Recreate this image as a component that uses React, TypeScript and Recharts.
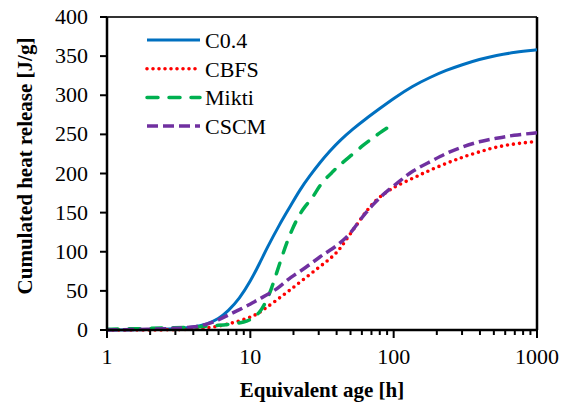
import React from 'react';
import { LineChart, Line, XAxis, YAxis, Legend, ReferenceLine } from 'recharts';

// equivalent age [h] and cumulated heat [J/g]
const c04Age = [1, 2, 3, 4, 5, 6, 7, 8.4, 10, 11.6, 13, 16.1, 19, 22.1, 26, 30.6, 36, 42, 52, 64, 80, 100, 136, 180, 233, 300, 397, 520, 700, 1000];
const c04Heat = [0, 0.5, 1.5, 3.5, 7.5, 14, 24, 40, 62, 85, 104, 136, 158, 179, 197, 214, 229, 242, 257, 270, 283, 296, 312, 323, 332, 339, 346, 351, 355, 358];

const cbfsAge = [1, 2, 3, 4, 5, 6.5, 8, 10.4, 12.2, 15.2, 18.9, 24, 30.6, 37.7, 42, 49, 57, 65.6, 76, 90, 104, 140, 177, 240, 303, 400, 520, 700, 1000];
const cbfsHeat = [0, 0, 0.3, 1, 2.5, 6, 10.5, 17, 25, 38, 51, 66, 81, 94, 103, 121, 138, 154, 167, 177, 184, 195, 204, 214, 221, 228, 234, 238, 241];

const miktiAge = [1, 1.5, 2, 3, 4, 5, 6, 7, 8, 9, 10, 11, 12, 13, 14, 15.2, 16.5, 17.9, 19.5, 21.6, 24, 26.7, 29, 32, 38, 42, 52, 61, 70, 80, 95];
const miktiHeat = [1, 1.5, 2, 3, 3.5, 5, 6, 7, 8.5, 10, 13, 18, 26, 38, 52, 72, 92, 111, 128, 145, 158, 167, 178, 190, 203, 211, 225, 236, 244, 252, 261];

const cscmAge = [1, 2, 3, 4, 5, 6, 7, 8.4, 10, 11.6, 13.5, 16, 18.9, 24.6, 30.6, 37.7, 42, 46.8, 52, 58, 64, 71.5, 80, 89, 110, 136, 180, 233, 300, 397, 520, 679, 1000];
const cscmHeat = [0, 1, 2, 3.5, 7, 13, 19, 26, 33, 40, 46, 55, 67, 80, 94, 104, 111, 118, 128, 140, 150, 160, 169, 177, 190, 204, 215, 226, 234, 241, 245, 249, 252];

const majorTicks = [1, 10, 100, 1000];
const minorTicks = [2, 3, 4, 5, 6, 7, 8, 9, 20, 30, 40, 50, 60, 70, 80, 90, 200, 300, 400, 500, 600, 700, 800, 900];
const yTicks = [0, 50, 100, 150, 200, 250, 300, 350, 400];

const toPoints = (age: number[], heat: number[]) => age.map((t, i) => ({ t, q: heat[i] }));

const series = [
  { name: 'C0.4', data: toPoints(c04Age, c04Heat), color: '#0070C0', dash: undefined, cap: 'butt', width: 3 },
  { name: 'CBFS', data: toPoints(cbfsAge, cbfsHeat), color: '#FF0000', dash: '0 6', cap: 'round', width: 3.6 },
  { name: 'Mikti', data: toPoints(miktiAge, miktiHeat), color: '#00B050', dash: '11 11', cap: 'round', width: 3.5 },
  { name: 'CSCM', data: toPoints(cscmAge, cscmHeat), color: '#7030A0', dash: '11 5', cap: 'butt', width: 3.5 },
];

const FONT = 'Liberation Serif';

const XTick = (props: any) => {
  const { x, y, payload } = props;
  const major = majorTicks.includes(payload.value);
  return (
    <g>
      <line x1={x} y1={y} x2={x} y2={y + (major ? 8 : 5)} stroke="#000" strokeWidth={2} />
      {major && (
        <text x={x} y={y + 34} textAnchor="middle" fontFamily={FONT} fontSize={22} fill="#000">
          {payload.value}
        </text>
      )}
    </g>
  );
};

const YTick = (props: any) => {
  const { x, y, payload } = props;
  return (
    <text x={x} y={y + 7} textAnchor="end" fontFamily={FONT} fontSize={22} fill="#000">
      {payload.value}
    </text>
  );
};

const xTitle = () => (
  <text x={322} y={397} textAnchor="middle" fontFamily={FONT} fontSize={21} fontWeight="bold" fill="#000">
    Equivalent age [h]
  </text>
);

const yTitle = () => (
  <text x={0} y={0} transform="translate(32,166) rotate(-90)" textAnchor="middle" fontFamily={FONT}
    fontSize={21} fontWeight="bold" fill="#000">
    Cumulated heat release [J/g]
  </text>
);

const renderLegend = () => (
  <svg width={130} height={120}>
    {series.map((s, i) => {
      const cy = 16 + i * 28.7;
      return (
        <g key={s.name}>
          <line x1={7} x2={60} y1={cy} y2={cy} stroke={s.color} strokeWidth={s.width}
            strokeDasharray={s.dash} strokeLinecap={s.cap as any} />
          <text x={65} y={cy + 8} fontFamily={FONT} fontSize={22} fill="#000">{s.name}</text>
        </g>
      );
    })}
  </svg>
);

const App: React.FC = () => {
  return (
    <div style={{ position: 'absolute', left: 0, top: 0, width: 565, height: 407, background: '#fff' }}>
      <LineChart width={565} height={407} margin={{ top: 17, right: 28, bottom: 0, left: 0 }}>
        <XAxis
          type="number"
          dataKey="t"
          scale="log"
          domain={[1, 1000]}
          allowDataOverflow
          ticks={[...majorTicks, ...minorTicks]}
          interval={0}
          height={77}
          tickSize={0}
          tickMargin={0}
          tickLine={false}
          tick={<XTick />}
          axisLine={{ stroke: '#000', strokeWidth: 2.5 }}
          label={{ content: xTitle }}
        />
        <YAxis
          type="number"
          domain={[0, 400]}
          ticks={yTicks}
          interval={0}
          width={107}
          tickSize={7}
          tickMargin={12}
          tickLine={{ stroke: '#000', strokeWidth: 2 }}
          axisLine={{ stroke: '#000', strokeWidth: 2.5 }}
          tick={<YTick />}
          label={{ content: yTitle }}
        />
        <ReferenceLine y={400} stroke="#333" strokeWidth={2} />
        <ReferenceLine x={1000} stroke="#000" strokeWidth={2.5} />
        <Legend
          layout="vertical"
          align="center"
          verticalAlign="middle"
          content={renderLegend}
          wrapperStyle={{ left: 140, top: 24, width: 130, height: 120 }}
        />
        {series.map((s) => (
          <Line
            key={s.name}
            data={s.data}
            dataKey="q"
            name={s.name}
            type="basis"
            stroke={s.color}
            strokeWidth={s.width}
            strokeDasharray={s.dash}
            strokeLinecap={s.cap as any}
            dot={false}
            activeDot={false}
            isAnimationActive={false}
          />
        ))}
      </LineChart>
    </div>
  );
};

export default App;
